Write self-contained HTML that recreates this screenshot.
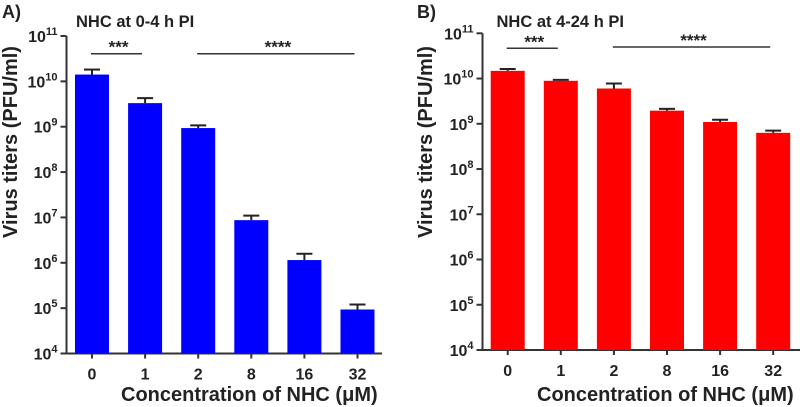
<!DOCTYPE html>
<html><head><meta charset="utf-8"><style>
html,body{margin:0;padding:0;background:#fff;}
svg{display:block;font-family:"Liberation Sans",Arial,sans-serif;font-weight:bold;}
</style></head><body>
<svg id="chart" width="800" height="407" viewBox="0 0 800 407"></svg>
<script>
const categories = ["0","1","2","8","16","32"];
const yTickExps = [4,5,6,7,8,9,10,11];
// log10 values
const seriesA = [10.15, 9.52, 8.97, 6.94, 6.06, 4.97];
const errA = [10.26, 9.63, 9.03, 7.04, 6.20, 5.08];
const seriesB = [10.17, 9.95, 9.78, 9.29, 9.04, 8.80];
const errB = [10.21, 9.97, 9.89, 9.33, 9.09, 8.85];
const sigLabels = ["***","****"];
const sigSpans = [[0,1],[2,5]];

const NS="http://www.w3.org/2000/svg";
const svg=document.getElementById('chart');
function mk(tag,attrs,parent){const e=document.createElementNS(NS,tag);for(const k in attrs)e.setAttribute(k,attrs[k]);(parent||svg).appendChild(e);return e;}

function panel(p){
  const g=mk('g',{});
  
  
  const y=v=>p.y4-(v-4)*(p.y4-p.y11)/7;
  const x=i=>p.x0+i*p.step;
  const ya=mk('line',{x1:p.ax,y1:p.y11,x2:p.ax,y2:p.y4+1,stroke:'#333','stroke-width':2},g);
  
  
  const xa=mk('line',{x1:p.ax-6,y1:p.y4,x2:p.xEnd,y2:p.y4,stroke:'#333','stroke-width':2},g);
  
  
  yTickExps.forEach(e=>{
    const yy=y(e);
    mk('line',{x1:p.ax-6,y1:yy,x2:p.ax,y2:yy,stroke:'#333','stroke-width':2},g);
    const t=mk('text',{x:p.ax-9,y:yy+6,'text-anchor':'end','font-size':16,fill:'#222'},g);
    
    
    const a=mk('tspan',{},t); a.textContent='10';
    const s=mk('tspan',{dy:-7,'font-size':11},t); s.textContent=String(e);
  });
  p.vals.forEach((v,i)=>{
    const cx=x(i),top=y(v),et=y(p.err[i]);
    const w=34;
    const eb=mk('line',{x1:cx,y1:et,x2:cx,y2:top,stroke:'#222','stroke-width':2},g);
    
    
    mk('line',{x1:cx-8,y1:et,x2:cx+8,y2:et,stroke:'#222','stroke-width':2},g);
    const b=mk('rect',{x:cx-w/2,y:top,width:w,height:p.y4-top,fill:p.color},g);
    
    
    mk('line',{x1:cx,y1:p.y4,x2:cx,y2:p.y4+5,stroke:'#333','stroke-width':2},g);
    const t=mk('text',{x:cx,y:p.y4+26,'text-anchor':'middle','font-size':16,fill:'#222'},g);
    
    
    t.textContent=categories[i];
  });
  sigSpans.forEach((s,k)=>{
    const ly=p.sigY[k];
    const l=mk('line',{x1:x(s[0])-1,y1:ly,x2:x(s[1])-3,y2:ly,stroke:'#333','stroke-width':1.5},g);
    
    
    const t=mk('text',{x:(x(s[0])+x(s[1]))/2,y:ly-1,'text-anchor':'middle','font-size':17,fill:'#222'},g);
    
    
    t.textContent=sigLabels[k];
  });
  const tt=mk('text',{x:p.titleX,y:27,'font-size':16.5,fill:'#222'},g);
  
  
  tt.textContent=p.title;
  const pl=mk('text',{x:p.labelX,y:18,'font-size':18,fill:'#222'},g);
  
  
  pl.textContent=p.label;
  const yt=mk('text',{x:0,y:0,'text-anchor':'middle','font-size':20,fill:'#222',transform:`translate(${p.ytX},${p.ytY}) rotate(-90)`},g);
  
  
  yt.textContent='Virus titers (PFU/ml)';
  const xt=mk('text',{x:p.xtX,y:401,'font-size':20,fill:'#222'},g);
  
  
  xt.textContent='Concentration of NHC (\u03BCM)';
}
panel({name:'panel-a',vals:seriesA,err:errA,color:'#0000ff',ax:66.5,y11:36,y4:353.5,x0:92,step:53.1,xEnd:382,
  sigY:[53.7,53.7],titleX:76,labelX:2,title:'NHC at 0-4 h PI',label:'A)',ytX:17,ytY:142,xtX:121});
panel({name:'panel-b',vals:seriesB,err:errB,color:'#ff0000',ax:482.5,y11:33.3,y4:350,x0:507.7,step:53.1,xEnd:800,
  sigY:[48.3,47],titleX:496.5,labelX:417,title:'NHC at 4-24 h PI',label:'B)',ytX:432,ytY:142,xtX:537});
</script>
</body></html>
